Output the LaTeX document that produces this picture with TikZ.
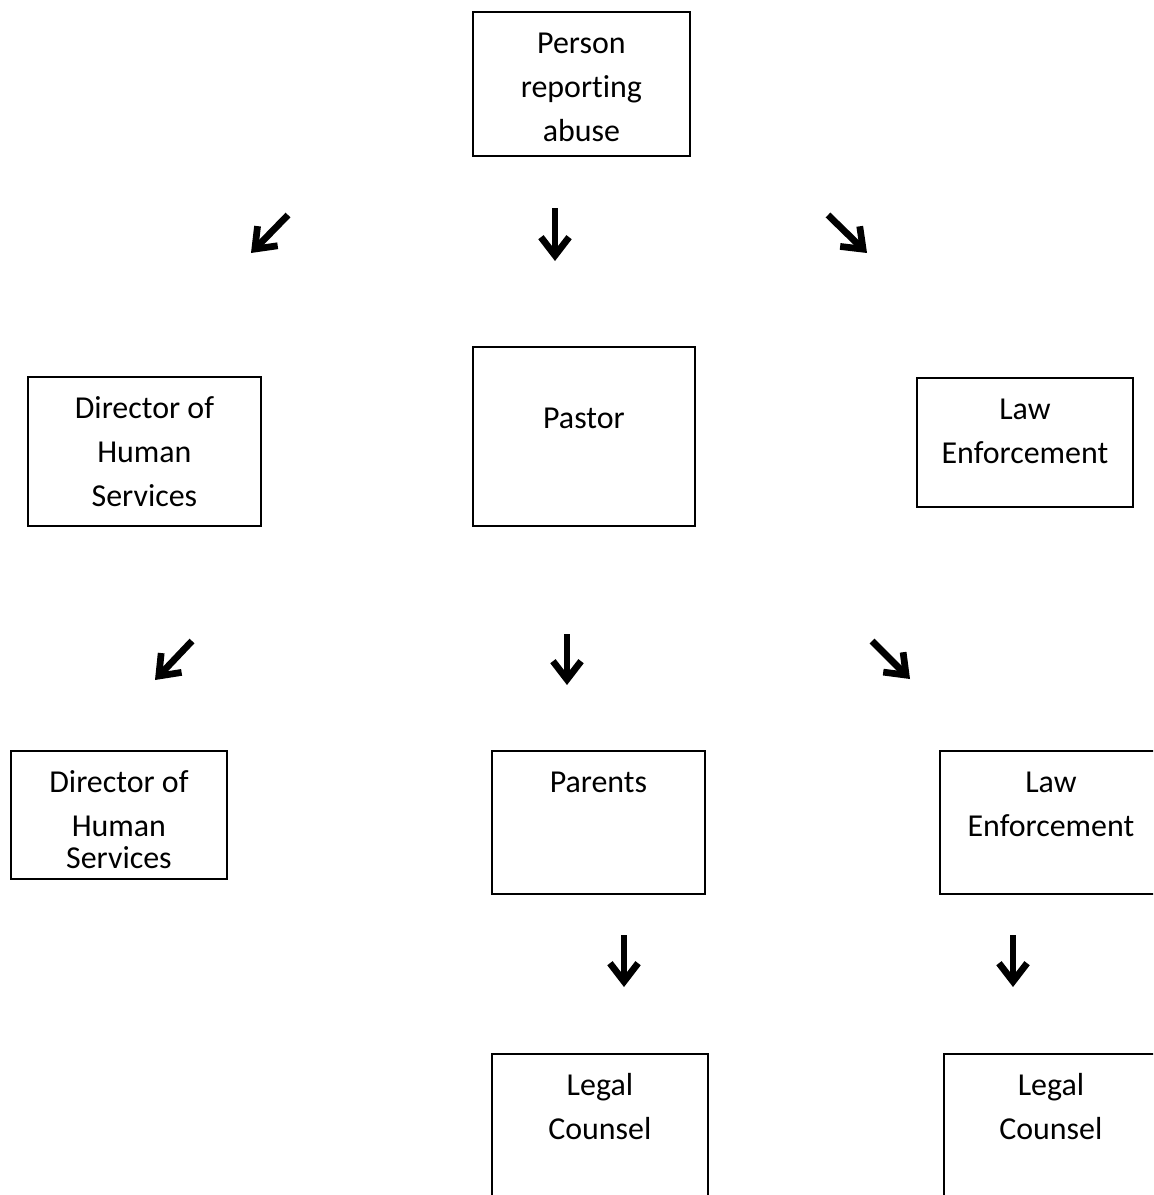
\documentclass[tikz,border=0pt]{standalone}
\usepackage{fontspec}
\setmainfont{Carlito}[Ligatures=NoCommon]
\usepackage{tikz}
\usetikzlibrary{arrows.meta}
\newlength{\px}
\setlength{\px}{0.025cm}
\tikzset{
  % plain box, text sits near its top edge
  flowbox/.style={draw=black, line width=1.3pt, inner sep=0pt,
                  anchor=north west,
                  font={\fontsize{22.7pt}{31.3pt}\selectfont}},
  % heavy arrow, looks like the arrow glyphs
  glyph/.style={line width=4.8pt,
                -{Straight Barb[length=13pt, width=20pt, line width=4.8pt]}},
}
% width, height, first baseline (all in px), then the lines
\newcommand{\boxtext}[4]{%
  \parbox[t][#2\px][t]{#1\px}{\centering\rule{0pt}{#3\px}#4}}

\begin{document}
\begin{tikzpicture}[x=0.025cm, y=-0.025cm]
  \clip (0,0) rectangle (1153,1195);
  % top
  \node[flowbox] (person) at (472,11)
    {\boxtext{217}{144}{42}{Person\\reporting\\abuse}};
  % second row
  \node[flowbox] (dhsA) at (27,376)
    {\boxtext{233}{149}{42}{Director of\\Human\\Services}};
  \node[flowbox] (pastor) at (472,346)
    {\boxtext{222}{179}{82}{Pastor}};
  \node[flowbox] (lawA) at (916,377)
    {\boxtext{216}{129}{42}{Law\\Enforcement}};
  % third row
  \node[flowbox] (dhsB) at (10,750)
    {\boxtext{216}{128}{42}{Director of\\Human\\[-12\px]Services}};
  \node[flowbox] (parents) at (491,750)
    {\boxtext{213}{143}{42}{Parents}};
  \node[flowbox] (lawB) at (939,750)
    {\boxtext{222}{143}{42}{Law\\Enforcement}};
  % bottom row (runs off the page)
  \node[flowbox] (legalA) at (491,1053)
    {\boxtext{216}{180}{42}{Legal\\Counsel}};
  \node[flowbox] (legalB) at (943,1053)
    {\boxtext{214}{180}{42}{Legal\\Counsel}};
  % arrows
  \foreach \n/\xa/\ya/\xb/\yb in {a/288/215/251/253, b/555/208/555/261,
                                  c/828/215/867/253, d/192/641/155/680,
                                  e/567/634/567/685, f/872/641/910/679,
                                  g/624/935/624/987, h/1013/935/1013/987}{
    \coordinate (\n-s) at (\xa,\ya);
    \coordinate (\n-e) at (\xb,\yb);
    \draw[glyph] (\n-s) -- (\n-e);
  }
\end{tikzpicture}
\end{document}
